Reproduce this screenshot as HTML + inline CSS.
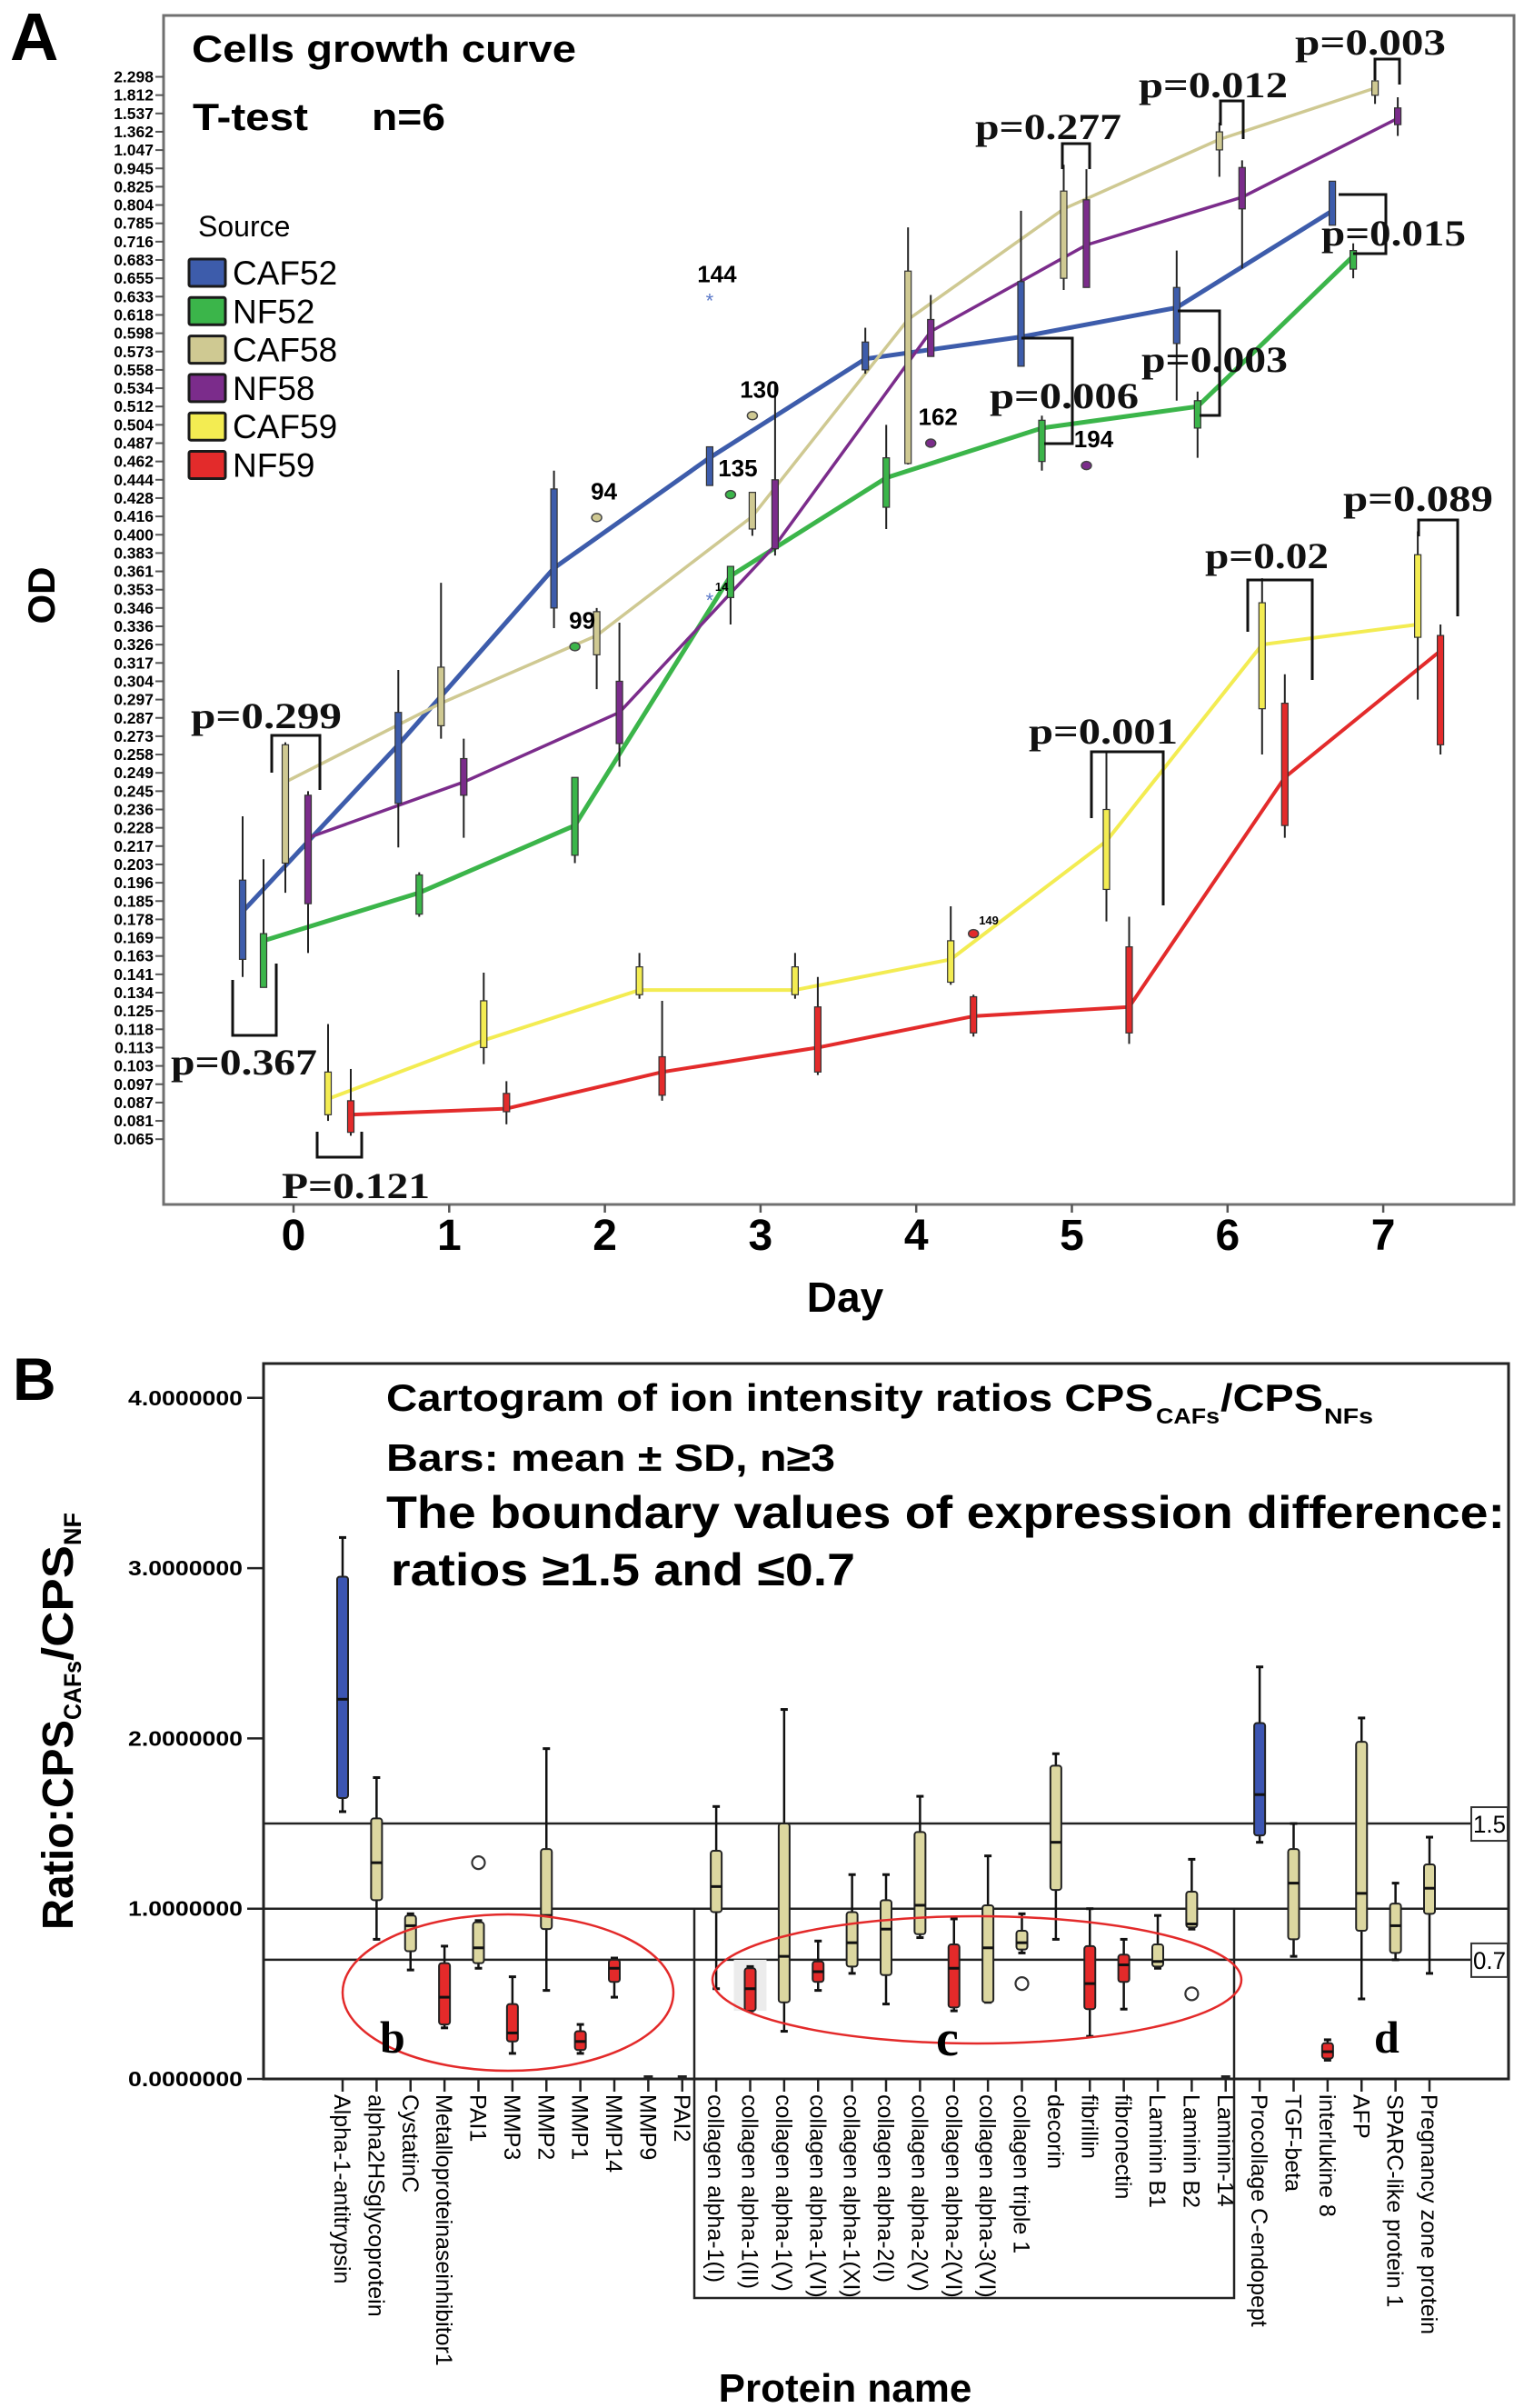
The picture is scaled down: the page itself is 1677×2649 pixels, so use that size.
<!DOCTYPE html>
<html><head><meta charset="utf-8"><style>
html,body{margin:0;padding:0;background:#fff}
svg{display:block}
.b{font-family:"Liberation Sans",Arial,sans-serif;font-weight:bold}
.n{font-family:"Liberation Sans",Arial,sans-serif}
.s{font-family:"Liberation Serif","Times New Roman",serif;font-weight:bold}
</style></head><body>
<svg id="fig" xmlns="http://www.w3.org/2000/svg" width="1677" height="2649" viewBox="0 0 1677 2649">
<rect width="1677" height="2649" fill="#fff"/>
<g id="panelA">
<text class="b" x="11" y="66" font-size="74">A</text>
<rect x="180" y="17" width="1486" height="1308" fill="none" stroke="#707070" stroke-width="3"/>
<text class="b" x="211" y="68" font-size="42" textLength="423" lengthAdjust="spacingAndGlyphs">Cells growth curve</text>
<text class="b" x="212" y="143" font-size="42" textLength="127" lengthAdjust="spacingAndGlyphs">T-test</text>
<text class="b" x="409" y="143" font-size="42" textLength="81" lengthAdjust="spacingAndGlyphs">n=6</text>
<text class="n" x="218" y="260" font-size="32">Source</text>
<text class="b" transform="translate(60,655) rotate(-90)" text-anchor="middle" font-size="42">OD</text>
<text class="b" x="930" y="1443" text-anchor="middle" font-size="46">Day</text>
</g>
<g id="aAxes"></g>
<g id="aLegend"></g>
<g id="aLines"></g>
<g id="aBoxes"></g>
<g id="aOut"></g>
<g id="pvals" fill="none" stroke="#111" stroke-width="3">
<path d="M299 850 V809 H352 V869"/>
<path d="M256 1078 V1139 H304 V1060"/>
<path d="M349 1245 V1273 H398 V1245"/>
<path d="M1169 186 V158 H1199 V186"/>
<path d="M1124 372 H1180 V488 H1149"/>
<path d="M1343 138 V111 H1368 V153"/>
<path d="M1513 88 V65 H1540 V93"/>
<path d="M1296 342 H1342 V457 H1320"/>
<path d="M1473 214 H1525 V279 H1489"/>
<path d="M1561 590 V572 H1604 V678"/>
<path d="M1373 695 V638 H1444 V748"/>
<path d="M1201 900 V827 H1280 V996"/>
</g>
<g class="s" font-size="40" fill="#111">
<text x="210" y="801" textLength="166" lengthAdjust="spacingAndGlyphs">p=0.299</text>
<text x="188" y="1182" textLength="161" lengthAdjust="spacingAndGlyphs">p=0.367</text>
<text x="310" y="1318" textLength="163" lengthAdjust="spacingAndGlyphs">P=0.121</text>
<text x="1073" y="153" textLength="161" lengthAdjust="spacingAndGlyphs">p=0.277</text>
<text x="1089" y="449" textLength="164" lengthAdjust="spacingAndGlyphs">p=0.006</text>
<text x="1253" y="107" textLength="164" lengthAdjust="spacingAndGlyphs">p=0.012</text>
<text x="1425" y="60" textLength="166" lengthAdjust="spacingAndGlyphs">p=0.003</text>
<text x="1256" y="409" textLength="161" lengthAdjust="spacingAndGlyphs">p=0.003</text>
<text x="1454" y="270" textLength="159" lengthAdjust="spacingAndGlyphs">p=0.015</text>
<text x="1478" y="562" textLength="165" lengthAdjust="spacingAndGlyphs">p=0.089</text>
<text x="1326" y="625" textLength="136" lengthAdjust="spacingAndGlyphs">p=0.02</text>
<text x="1132" y="818" textLength="164" lengthAdjust="spacingAndGlyphs">p=0.001</text>
</g>

<g id="panelB">
<text class="b" x="14" y="1540" font-size="66">B</text>
<text class="b" x="425" y="1552" font-size="42" textLength="844" lengthAdjust="spacingAndGlyphs">Cartogram of ion intensity ratios CPS</text>
<text class="b" x="1272" y="1566" font-size="24" textLength="70" lengthAdjust="spacingAndGlyphs">CAFs</text>
<text class="b" x="1343" y="1552" font-size="42" textLength="113" lengthAdjust="spacingAndGlyphs">/CPS</text>
<text class="b" x="1457" y="1566" font-size="24" textLength="54" lengthAdjust="spacingAndGlyphs">NFs</text>
<text class="b" x="425" y="1618" font-size="42" textLength="494" lengthAdjust="spacingAndGlyphs">Bars: mean ± SD, n≥3</text>
<text class="b" x="425" y="1681" font-size="50" textLength="1231" lengthAdjust="spacingAndGlyphs">The boundary values of expression difference:</text>
<text class="b" x="430" y="1744" font-size="50" textLength="511" lengthAdjust="spacingAndGlyphs">ratios ≥1.5 and ≤0.7</text>
<g transform="translate(80,2123) rotate(-90)" class="b">
<text x="0" y="0" font-size="48" textLength="231" lengthAdjust="spacingAndGlyphs">Ratio:CPS</text>
<text x="231" y="9" font-size="27" textLength="65" lengthAdjust="spacingAndGlyphs">CAFs</text>
<text x="296" y="0" font-size="48" textLength="127" lengthAdjust="spacingAndGlyphs">/CPS</text>
<text x="423" y="9" font-size="27" textLength="36" lengthAdjust="spacingAndGlyphs">NF</text>
</g>
<text class="b" x="930" y="2642" text-anchor="middle" font-size="44">Protein name</text>
</g>
<g id="bAxes"></g>
<g id="bBoxes"></g>
<g>
<path d="M764 2099 V2528 H1358 V2099" fill="none" stroke="#222" stroke-width="2.5"/>
<ellipse cx="559" cy="2192" rx="182" ry="86" fill="none" stroke="#e32a2a" stroke-width="2.5"/>
<ellipse cx="1075" cy="2178" rx="291" ry="70" fill="none" stroke="#e32a2a" stroke-width="2.5"/>
<text class="s" x="418" y="2258" font-size="50">b</text>
<text class="s" x="1030" y="2261" font-size="56">c</text>
<text class="s" x="1512" y="2258" font-size="50">d</text>
</g>
</svg>
<script>
const ticksA=[2.298,1.812,1.537,1.362,1.047,0.945,0.825,0.804,0.785,0.716,0.683,0.655,0.633,0.618,0.598,0.573,0.558,0.534,0.512,0.504,0.487,0.462,0.444,0.428,0.416,0.400,0.383,0.361,0.353,0.346,0.336,0.326,0.317,0.304,0.297,0.287,0.273,0.258,0.249,0.245,0.236,0.228,0.217,0.203,0.196,0.185,0.178,0.169,0.163,0.141,0.134,0.125,0.118,0.113,0.103,0.097,0.087,0.081,0.065];
const days=[0,1,2,3,4,5,6,7];
const seriesNames=["CAF52","NF52","CAF58","NF58","CAF59","NF59"];
const caf52Med=[.181,.266,.365,.467,.567,.593,.624,.798];
const caf52Q3=[.197,.29,.436,.482,.586,.651,.644,.861];
const caf52Q1=[.159,.239,.346,.439,.558,.561,.584,.778];
const caf52Hi=[.233,.312,.453,.482,.604,.798,.70,.861];
const caf52Lo=[.140,.216,.335,.439,.553,.561,.519,.778];
const nf52Med=[.168,.19,.229,.359,.446,.501,.512,.69];
const nf52Q3=[.171,.199,.248,.367,.467,.506,.519,.70];
const nf52Q1=[.136,.180,.210,.350,.422,.462,.501,.669];
const nf52Hi=[.207,.200,.248,.367,.504,.508,.53,.713];
const nf52Lo=[.136,.179,.204,.337,.405,.453,.467,.655];
const caf58Med=[.247,.295,.331,.416,.613,.80,1.23,2.0];
const caf58Q3=[.266,.314,.344,.433,.666,.82,1.36,2.19];
const caf58Q1=[.204,.281,.321,.405,.46,.655,1.05,1.81];
const caf58Hi=[.268,.356,.346,.433,.77,.965,1.45,2.25];
const caf58Lo=[.19,.271,.301,.399,.459,.641,.89,1.68];
const nf58Med=[.222,.247,.29,.39,.60,.71,.813,1.49];
const nf58Q3=[.243,.256,.304,.444,.613,.81,.95,1.62];
const nf58Q1=[.184,.243,.267,.387,.569,.644,.80,1.43];
const nf58Hi=[.245,.271,.338,.541,.635,.94,.99,1.78];
const nf58Lo=[.164,.222,.252,.38,.569,.644,.67,1.29];
const caf59Med=[.089,.115,.135,.135,.159,.22,.326,.337];
const caf59Q3=[.101,.13,.15,.15,.168,.236,.348,.381];
const caf59Q1=[.083,.113,.133,.133,.138,.192,.292,.33];
const caf59Hi=[.12,.143,.164,.164,.183,.26,.358,.403];
const caf59Lo=[.081,.104,.131,.131,.137,.177,.258,.297];
const nf59Med=[.083,.085,.101,.113,.123,.127,.248,.323];
const nf59Q3=[.088,.092,.108,.127,.132,.166,.295,.331];
const nf59Q1=[.071,.084,.091,.101,.117,.117,.229,.266];
const nf59Hi=[.102,.098,.13,.14,.133,.179,.309,.337];
const nf59Lo=[.068,.078,.088,.10,.116,.114,.222,.258];
const outSeries=[0,2,1,2,1,0,3,3,5];
const outDay=[3,2,2,3,3,3,4,5,4];
const outVal=[.630,.415,.325,.508,.431,.349,.487,.458,.171];
const outLabel=["144","94","99","130","135","14","162","194","149"];

const catsB=["Alpha-1-antitrypsin","alpha2HSglycoprotein","CystatinC","Metalloproteinaseinhibitor1","PAI1","MMP3","MMP2","MMP1","MMP14","MMP9","PAI2","collagen alpha-1(I)","collagen alpha-1(II)","collagen alpha-1(V)","collagen alpha-1(VI)","collagen alpha-1(XI)","collagen alpha-2(I)","collagen alpha-2(V)","collagen alpha-2(VI)","collagen alpha-3(VI)","collagen triple 1","decorin","fibrillin","fibronectin","Laminin B1","Laminin B2","Laminin-14","Procollage C-endopept","TGF-beta","interlukine  8","AFP","SPARC-like protein 1","Pregnancy zone protein"];
const groupB=["b","t","t","r","t","r","t","r","r","","","t","r","t","r","t","t","t","r","t","t","t","r","r","t","t","","b","t","r","t","t","t"];
const q1B=[1.65,1.05,.75,.32,.68,.22,.88,.17,.57,null,null,.98,.40,.45,.57,.66,.61,.85,.42,.45,.76,1.11,.41,.57,.66,.89,null,1.43,.82,.12,.87,.74,.97];
const q3B=[2.95,1.53,.96,.68,.92,.44,1.35,.28,.70,null,null,1.34,.65,1.50,.69,.98,1.05,1.45,.79,1.02,.87,1.84,.78,.73,.79,1.10,null,2.09,1.35,.21,1.98,1.03,1.26];
const medB=[2.23,1.27,.90,.48,.77,.27,.96,.22,.65,null,null,1.13,.53,.72,.63,.80,.88,1.02,.65,.77,.80,1.39,.56,.67,.69,.91,null,1.67,1.15,.16,1.09,.90,1.12];
const loB=[1.57,.82,.64,.30,.65,.15,.52,.15,.48,null,null,.53,.40,.28,.52,.62,.44,.83,.40,.45,.74,.82,.25,.41,.65,.88,null,1.39,.72,.11,.47,.70,.62];
const hiB=[3.18,1.77,.97,.78,.93,.60,1.94,.32,.71,null,null,1.60,.66,2.17,.81,1.20,1.20,1.66,.94,1.31,.97,1.91,1.0,.82,.96,1.29,null,2.42,1.50,.23,2.12,1.15,1.42];
const outCatB=[4,20,25];
const outValB=[1.27,.56,.50];
const ticksB=[0,1,2,3,4];
const tickLabelsB=["0.0000000","1.0000000","2.0000000","3.0000000","4.0000000"];
const refLines=[1.5,1.0,0.7];
const refLabels=["1.5","","0.7"];

const NS="http://www.w3.org/2000/svg";
function mk(tag,attrs,parent){const e=document.createElementNS(NS,tag);for(const k in attrs)e.setAttribute(k,attrs[k]);parent.appendChild(e);return e;}
const A_Y0=84.5,A_STEP=20.15,A_DAY0=323,A_DAYW=171.3;
const offsets=[-56,-33,-9,16,38,63];
const colors=["#3d5cab","#3bb54a","#cfc992","#7b2c8b","#f3ec52","#e32b2b"];
const lineW=[5,5,3.5,3.5,4,4];
function yA(v){
  const t=ticksA;let idx;
  if(v>=t[0]) idx=(t[0]-v)/(t[0]-t[1]);
  else if(v<=t[t.length-1]) idx=t.length-1+(t[t.length-1]-v)/(t[t.length-2]-t[t.length-1]);
  else{for(let i=0;i<t.length-1;i++){if(v<=t[i]&&v>=t[i+1]){idx=i+(t[i]-v)/(t[i]-t[i+1]);break;}}}
  return A_Y0+idx*A_STEP;
}
function xA(d,s){return A_DAY0+d*A_DAYW+offsets[s];}
const B_Y0=2287,B_UNIT=187.3,B_X0=377,B_STEP=37.375;
function yB(v){return B_Y0-v*B_UNIT;}
function xB(i){return B_X0+i*B_STEP;}

const med=[caf52Med,nf52Med,caf58Med,nf58Med,caf59Med,nf59Med];
const q1=[caf52Q1,nf52Q1,caf58Q1,nf58Q1,caf59Q1,nf59Q1];
const q3=[caf52Q3,nf52Q3,caf58Q3,nf58Q3,caf59Q3,nf59Q3];
const lo=[caf52Lo,nf52Lo,caf58Lo,nf58Lo,caf59Lo,nf59Lo];
const hi=[caf52Hi,nf52Hi,caf58Hi,nf58Hi,caf59Hi,nf59Hi];

const ax=document.getElementById('aAxes');
ticksA.forEach((v,i)=>{
  const y=A_Y0+i*A_STEP;
  const l=mk('line',{x1:171,x2:180,y1:y,y2:y,stroke:'#555','stroke-width':2},ax);
  
  
  const t=mk('text',{x:169,y:y+6,'text-anchor':'end','font-size':17.5,class:'b'},ax);
  
  
  t.textContent=v.toFixed(3);
});
days.forEach(d=>{
  const x=A_DAY0+d*A_DAYW;
  const l=mk('line',{x1:x,x2:x,y1:1325,y2:1334,stroke:'#555','stroke-width':2.5},ax);
  
  
  const t=mk('text',{x:x,y:1375,'text-anchor':'middle','font-size':48,class:'b'},ax);
  
  
  t.textContent=String(d);
});
const lg=document.getElementById('aLegend');
seriesNames.forEach((n,i)=>{
  const y=285+i*42.3;
  const r=mk('rect',{x:208,y:y,width:40,height:30,fill:colors[i],stroke:'#1a1a1a','stroke-width':3,rx:2},lg);
  
  
  const t=mk('text',{x:256,y:y+28,'font-size':37,class:'n'},lg);
  
  
  t.textContent=n;
});
const lnG=document.getElementById('aLines');
seriesNames.forEach((n,s)=>{
  const pts=days.map((d,i)=>xA(d,s).toFixed(1)+','+yA(med[s][i]).toFixed(1)).join(' ');
  const p=mk('polyline',{points:pts,fill:'none',stroke:colors[s],'stroke-width':lineW[s],'stroke-linejoin':'round'},lnG);
  
  
});
const bxG=document.getElementById('aBoxes');
seriesNames.forEach((n,s)=>{
  days.forEach((d,i)=>{
    const x=xA(d,s);
    const w=mk('line',{x1:x,x2:x,y1:yA(hi[s][i]),y2:yA(lo[s][i]),stroke:'#222','stroke-width':2},bxG);
    
    
    const yt=yA(q3[s][i]),yb=yA(q1[s][i]);
    const r=mk('rect',{x:x-3.5,y:yt,width:7,height:Math.max(2,yb-yt),fill:colors[s],stroke:'#333','stroke-width':1.2},bxG);
    
    
  });
});
const oG=document.getElementById('aOut');
outVal.forEach((v,k)=>{
  const s=outSeries[k],x=xA(outDay[k],s),y=yA(v);
  const star=(s===0);
  let m;
  if(star){m=mk('text',{x:x,y:y+8,'text-anchor':'middle','font-size':22,fill:'#5a78c8',class:'n'},oG);m.textContent='*';}
  else{m=mk('ellipse',{cx:x,cy:y,rx:5.5,ry:4.5,fill:colors[s],stroke:'#444','stroke-width':1.5},oG);}
  
  
  const small=(outLabel[k]==='14'||outLabel[k]==='149');
  const t=mk('text',{x:x+(small?6:8),y:y-(small?10:20),'text-anchor':small?'start':'middle','font-size':small?13:26,class:'b'},oG);
  
  
  t.textContent=outLabel[k];
});

const bA=document.getElementById('bAxes');
const fr=mk('rect',{x:290,y:1500,width:1370,height:B_Y0-1500,fill:'none',stroke:'#222','stroke-width':3},bA);


ticksB.forEach((v,i)=>{
  const y=yB(v);
  const l=mk('line',{x1:272,x2:290,y1:y,y2:y,stroke:'#222','stroke-width':2.5},bA);
  
  
  const t=mk('text',{x:267,y:y+8,'text-anchor':'end','font-size':23,class:'b',textLength:126,lengthAdjust:'spacingAndGlyphs'},bA);
  
  
  t.textContent=tickLabelsB[i];
});
refLines.forEach((v,i)=>{
  const y=yB(v);
  const l=mk('line',{x1:290,x2:1660,y1:y,y2:y,stroke:'#222','stroke-width':2.5},bA);
  
  
  if(refLabels[i]){
    const r=mk('rect',{x:1619,y:y-18,width:40,height:37,fill:'#fff',stroke:'#333','stroke-width':2},bA);
    
    
    const t=mk('text',{x:1639,y:y+10,'text-anchor':'middle','font-size':27,class:'n',textLength:36,lengthAdjust:'spacingAndGlyphs'},bA);
    
    
    t.textContent=refLabels[i];
  }
});
catsB.forEach((c,i)=>{
  const x=xB(i);
  const l=mk('line',{x1:x,x2:x,y1:B_Y0,y2:B_Y0+14,stroke:'#222','stroke-width':2.5},bA);
  
  
  const t=mk('text',{transform:'translate('+(x-9)+','+(B_Y0+17)+') rotate(90)','font-size':25,class:'n'},bA);
  
  
  t.textContent=c;
});
const gB=document.getElementById('bBoxes');
const gc={b:'#3c55b2',t:'#dcd7a0',r:'#e42a2a'};
const sh=mk('rect',{x:xB(12)-18,y:yB(0.7),width:36,height:yB(0.4)-yB(0.7),fill:'#ececec'},gB);


catsB.forEach((c,i)=>{
  const x=xB(i);
  if(medB[i]===null){
    const d=mk('line',{x1:x-5,x2:x+5,y1:B_Y0-2,y2:B_Y0-2,stroke:'#222','stroke-width':4},gB);
    
    
    return;
  }
  const w=mk('line',{x1:x,x2:x,y1:yB(hiB[i]),y2:yB(loB[i]),stroke:'#111','stroke-width':2.5},gB);
  
  
  [hiB[i],loB[i]].forEach(v=>{
    const cp=mk('line',{x1:x-4,x2:x+4,y1:yB(v),y2:yB(v),stroke:'#111','stroke-width':3},gB);
    
    
  });
  const r=mk('rect',{x:x-6,y:yB(q3B[i]),width:12,height:yB(q1B[i])-yB(q3B[i]),fill:gc[groupB[i]],stroke:'#222','stroke-width':2,rx:3},gB);
  
  
  const m=mk('line',{x1:x-6,x2:x+6,y1:yB(medB[i]),y2:yB(medB[i]),stroke:'#111','stroke-width':3},gB);
  
  
});
outValB.forEach((v,k)=>{
  const c=mk('circle',{cx:xB(outCatB[k]),cy:yB(v),r:7,fill:'none',stroke:'#333','stroke-width':2.2},gB);
  
  
});
</script>
</body></html>
